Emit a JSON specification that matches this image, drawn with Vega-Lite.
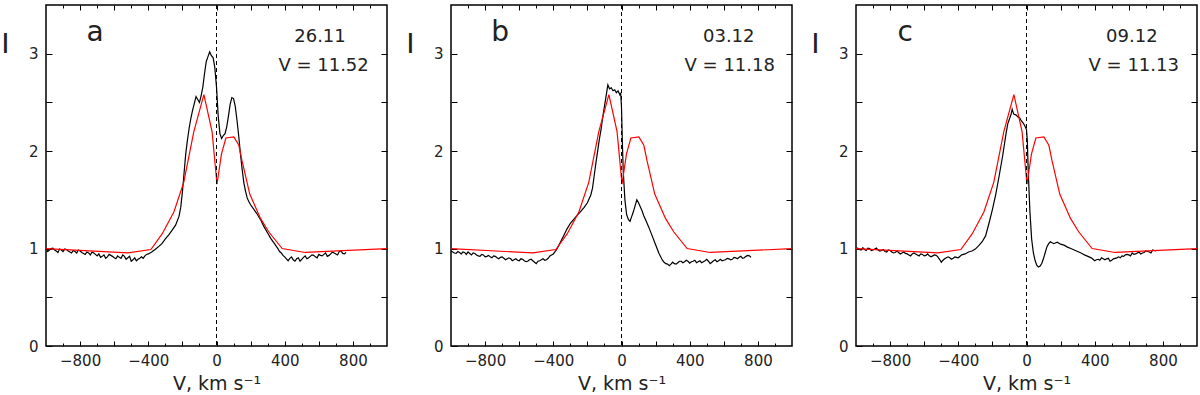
{
"$schema": "https://vega.github.io/schema/vega-lite/v6.json",
"padding": {"left": 0, "top": 3, "right": 0, "bottom": 0},
"background": "white",
"config": {
 "view": {"stroke": "black", "strokeWidth": 1.5},
 "axis": {"domain": false, "grid": false, "labelFont": "DejaVu Sans", "labelFontSize": 15, "labelColor": "#222", "tickColor": "black", "tickWidth": 1, "titleFont": "DejaVu Sans", "titleFontWeight": "normal", "titleColor": "#222"},
 "concat": {"spacing": 14},
 "text": {"font": "DejaVu Sans", "color": "#222"}
},
"datasets": {
 "model": [
  {"v":-1000,"i":1.0},{"v":-520,"i":0.955},{"v":-385,"i":0.99},{"v":-319,"i":1.15},{"v":-250,"i":1.375},{"v":-192,"i":1.68},{"v":-133,"i":2.2},{"v":-74,"i":2.58},{"v":-26,"i":2.2},{"v":3,"i":1.66},{"v":29,"i":1.97},{"v":55,"i":2.135},{"v":102,"i":2.145},{"v":131,"i":2.06},{"v":150,"i":1.9},{"v":195,"i":1.56},{"v":258,"i":1.31},{"v":307,"i":1.17},{"v":385,"i":1.0},{"v":520,"i":0.96},{"v":1000,"i":1.0}
 ],
 "spec": [
  {"p":"a","v":-1000,"i":1.0},{"p":"a","v":-980,"i":0.985},{"p":"a","v":-960,"i":1.005},{"p":"a","v":-940,"i":0.975},{"p":"a","v":-920,"i":0.995},{"p":"a","v":-900,"i":0.97},{"p":"a","v":-880,"i":0.99},{"p":"a","v":-860,"i":0.965},{"p":"a","v":-840,"i":0.98},{"p":"a","v":-820,"i":0.955},{"p":"a","v":-800,"i":0.975},{"p":"a","v":-780,"i":0.95},{"p":"a","v":-760,"i":0.965},{"p":"a","v":-740,"i":0.935},{"p":"a","v":-720,"i":0.955},{"p":"a","v":-700,"i":0.925},{"p":"a","v":-680,"i":0.91},{"p":"a","v":-660,"i":0.935},{"p":"a","v":-640,"i":0.915},{"p":"a","v":-620,"i":0.93},{"p":"a","v":-600,"i":0.905},{"p":"a","v":-580,"i":0.925},{"p":"a","v":-560,"i":0.9},{"p":"a","v":-540,"i":0.92},{"p":"a","v":-520,"i":0.905},{"p":"a","v":-500,"i":0.87},{"p":"a","v":-480,"i":0.905},{"p":"a","v":-460,"i":0.89},{"p":"a","v":-440,"i":0.915},{"p":"a","v":-420,"i":0.925},{"p":"a","v":-400,"i":0.945},{"p":"a","v":-380,"i":0.965},{"p":"a","v":-360,"i":0.99},{"p":"a","v":-340,"i":1.02},{"p":"a","v":-320,"i":1.05},{"p":"a","v":-300,"i":1.1},{"p":"a","v":-280,"i":1.14},{"p":"a","v":-260,"i":1.19},{"p":"a","v":-240,"i":1.24},{"p":"a","v":-220,"i":1.33},{"p":"a","v":-210,"i":1.42},{"p":"a","v":-200,"i":1.58},{"p":"a","v":-190,"i":1.78},{"p":"a","v":-180,"i":1.98},{"p":"a","v":-170,"i":2.12},{"p":"a","v":-160,"i":2.24},{"p":"a","v":-150,"i":2.34},{"p":"a","v":-140,"i":2.42},{"p":"a","v":-130,"i":2.49},{"p":"a","v":-120,"i":2.56},{"p":"a","v":-110,"i":2.53},{"p":"a","v":-100,"i":2.5},{"p":"a","v":-90,"i":2.57},{"p":"a","v":-80,"i":2.66},{"p":"a","v":-70,"i":2.8},{"p":"a","v":-60,"i":2.92},{"p":"a","v":-50,"i":2.97},{"p":"a","v":-40,"i":3.02},{"p":"a","v":-30,"i":2.98},{"p":"a","v":-20,"i":2.96},{"p":"a","v":-10,"i":2.86},{"p":"a","v":0,"i":2.66},{"p":"a","v":10,"i":2.36},{"p":"a","v":20,"i":2.18},{"p":"a","v":30,"i":2.13},{"p":"a","v":40,"i":2.16},{"p":"a","v":50,"i":2.18},{"p":"a","v":60,"i":2.25},{"p":"a","v":70,"i":2.36},{"p":"a","v":80,"i":2.48},{"p":"a","v":90,"i":2.55},{"p":"a","v":100,"i":2.54},{"p":"a","v":110,"i":2.46},{"p":"a","v":120,"i":2.32},{"p":"a","v":130,"i":2.16},{"p":"a","v":140,"i":1.98},{"p":"a","v":150,"i":1.82},{"p":"a","v":160,"i":1.68},{"p":"a","v":170,"i":1.59},{"p":"a","v":180,"i":1.52},{"p":"a","v":190,"i":1.48},{"p":"a","v":200,"i":1.45},{"p":"a","v":220,"i":1.4},{"p":"a","v":240,"i":1.35},{"p":"a","v":260,"i":1.29},{"p":"a","v":280,"i":1.22},{"p":"a","v":300,"i":1.16},{"p":"a","v":320,"i":1.1},{"p":"a","v":340,"i":1.05},{"p":"a","v":360,"i":1.0},{"p":"a","v":380,"i":0.955},{"p":"a","v":400,"i":0.915},{"p":"a","v":420,"i":0.875},{"p":"a","v":440,"i":0.915},{"p":"a","v":460,"i":0.87},{"p":"a","v":480,"i":0.905},{"p":"a","v":500,"i":0.89},{"p":"a","v":520,"i":0.925},{"p":"a","v":540,"i":0.905},{"p":"a","v":560,"i":0.935},{"p":"a","v":580,"i":0.915},{"p":"a","v":600,"i":0.94},{"p":"a","v":620,"i":0.925},{"p":"a","v":640,"i":0.955},{"p":"a","v":660,"i":0.93},{"p":"a","v":680,"i":0.965},{"p":"a","v":700,"i":0.945},{"p":"a","v":720,"i":0.97},{"p":"a","v":740,"i":0.95},{"p":"a","v":760,"i":0.96},
  {"p":"a","v":-990,"i":0.97},{"p":"a","v":-970,"i":1.0},{"p":"a","v":-950,"i":0.985},{"p":"a","v":-930,"i":0.96},{"p":"a","v":-910,"i":0.985},{"p":"a","v":-890,"i":0.995},{"p":"a","v":-870,"i":0.975},{"p":"a","v":-850,"i":0.955},{"p":"a","v":-830,"i":0.97},{"p":"a","v":-810,"i":0.985},{"p":"a","v":-790,"i":0.96},{"p":"a","v":-770,"i":0.94},{"p":"a","v":-750,"i":0.955},{"p":"a","v":-730,"i":0.965},{"p":"a","v":-710,"i":0.94},{"p":"a","v":-690,"i":0.945},{"p":"a","v":-670,"i":0.92},{"p":"a","v":-650,"i":0.9},{"p":"a","v":-630,"i":0.94},{"p":"a","v":-610,"i":0.92},{"p":"a","v":-590,"i":0.895},{"p":"a","v":-570,"i":0.91},{"p":"a","v":-550,"i":0.935},{"p":"a","v":-530,"i":0.89},{"p":"a","v":-510,"i":0.92},{"p":"a","v":-490,"i":0.885},{"p":"a","v":-470,"i":0.875},{"p":"a","v":-450,"i":0.9},{"p":"a","v":-430,"i":0.9},{"p":"a","v":-410,"i":0.94},
  {"p":"a","v":370,"i":0.97},{"p":"a","v":390,"i":0.93},{"p":"a","v":410,"i":0.895},{"p":"a","v":430,"i":0.9},{"p":"a","v":450,"i":0.885},{"p":"a","v":470,"i":0.895},{"p":"a","v":490,"i":0.87},{"p":"a","v":510,"i":0.91},{"p":"a","v":530,"i":0.895},{"p":"a","v":550,"i":0.92},{"p":"a","v":570,"i":0.93},{"p":"a","v":590,"i":0.905},{"p":"a","v":610,"i":0.93},{"p":"a","v":630,"i":0.94},{"p":"a","v":650,"i":0.92},{"p":"a","v":670,"i":0.945},{"p":"a","v":690,"i":0.955},{"p":"a","v":710,"i":0.935},{"p":"a","v":730,"i":0.975},{"p":"a","v":750,"i":0.945},
  {"p":"b","v":-1000,"i":0.975},{"p":"b","v":-980,"i":0.955},{"p":"b","v":-960,"i":0.97},{"p":"b","v":-940,"i":0.945},{"p":"b","v":-920,"i":0.96},{"p":"b","v":-900,"i":0.965},{"p":"b","v":-880,"i":0.935},{"p":"b","v":-860,"i":0.95},{"p":"b","v":-840,"i":0.925},{"p":"b","v":-820,"i":0.94},{"p":"b","v":-800,"i":0.915},{"p":"b","v":-780,"i":0.93},{"p":"b","v":-760,"i":0.905},{"p":"b","v":-740,"i":0.92},{"p":"b","v":-720,"i":0.895},{"p":"b","v":-700,"i":0.915},{"p":"b","v":-680,"i":0.885},{"p":"b","v":-660,"i":0.905},{"p":"b","v":-640,"i":0.875},{"p":"b","v":-620,"i":0.895},{"p":"b","v":-600,"i":0.875},{"p":"b","v":-580,"i":0.89},{"p":"b","v":-560,"i":0.865},{"p":"b","v":-540,"i":0.885},{"p":"b","v":-520,"i":0.875},{"p":"b","v":-500,"i":0.845},{"p":"b","v":-480,"i":0.875},{"p":"b","v":-460,"i":0.895},{"p":"b","v":-440,"i":0.885},{"p":"b","v":-420,"i":0.925},{"p":"b","v":-400,"i":0.945},{"p":"b","v":-380,"i":0.99},{"p":"b","v":-360,"i":1.06},{"p":"b","v":-340,"i":1.13},{"p":"b","v":-320,"i":1.2},{"p":"b","v":-300,"i":1.26},{"p":"b","v":-280,"i":1.3},{"p":"b","v":-260,"i":1.34},{"p":"b","v":-240,"i":1.38},{"p":"b","v":-220,"i":1.42},{"p":"b","v":-200,"i":1.47},{"p":"b","v":-180,"i":1.55},{"p":"b","v":-170,"i":1.62},{"p":"b","v":-160,"i":1.75},{"p":"b","v":-150,"i":1.88},{"p":"b","v":-140,"i":2.0},{"p":"b","v":-130,"i":2.12},{"p":"b","v":-120,"i":2.22},{"p":"b","v":-110,"i":2.35},{"p":"b","v":-100,"i":2.46},{"p":"b","v":-90,"i":2.57},{"p":"b","v":-80,"i":2.68},{"p":"b","v":-70,"i":2.64},{"p":"b","v":-60,"i":2.65},{"p":"b","v":-50,"i":2.62},{"p":"b","v":-40,"i":2.63},{"p":"b","v":-30,"i":2.6},{"p":"b","v":-20,"i":2.62},{"p":"b","v":-10,"i":2.58},{"p":"b","v":-5,"i":2.6},{"p":"b","v":0,"i":2.45},{"p":"b","v":5,"i":2.1},{"p":"b","v":10,"i":1.8},{"p":"b","v":20,"i":1.5},{"p":"b","v":30,"i":1.35},{"p":"b","v":40,"i":1.3},{"p":"b","v":50,"i":1.28},{"p":"b","v":60,"i":1.33},{"p":"b","v":70,"i":1.38},{"p":"b","v":80,"i":1.44},{"p":"b","v":90,"i":1.5},{"p":"b","v":100,"i":1.47},{"p":"b","v":110,"i":1.43},{"p":"b","v":120,"i":1.39},{"p":"b","v":130,"i":1.34},{"p":"b","v":140,"i":1.3},{"p":"b","v":160,"i":1.22},{"p":"b","v":180,"i":1.13},{"p":"b","v":200,"i":1.04},{"p":"b","v":220,"i":0.95},{"p":"b","v":240,"i":0.88},{"p":"b","v":260,"i":0.845},{"p":"b","v":280,"i":0.825},{"p":"b","v":300,"i":0.86},{"p":"b","v":320,"i":0.84},{"p":"b","v":340,"i":0.87},{"p":"b","v":360,"i":0.855},{"p":"b","v":380,"i":0.88},{"p":"b","v":400,"i":0.85},{"p":"b","v":420,"i":0.87},{"p":"b","v":440,"i":0.855},{"p":"b","v":460,"i":0.875},{"p":"b","v":480,"i":0.865},{"p":"b","v":500,"i":0.89},{"p":"b","v":520,"i":0.845},{"p":"b","v":540,"i":0.875},{"p":"b","v":560,"i":0.865},{"p":"b","v":580,"i":0.89},{"p":"b","v":600,"i":0.88},{"p":"b","v":620,"i":0.9},{"p":"b","v":640,"i":0.885},{"p":"b","v":660,"i":0.91},{"p":"b","v":680,"i":0.895},{"p":"b","v":700,"i":0.92},{"p":"b","v":720,"i":0.905},{"p":"b","v":740,"i":0.93},{"p":"b","v":760,"i":0.91},
  {"p":"b","v":-990,"i":0.965},{"p":"b","v":-970,"i":0.95},{"p":"b","v":-950,"i":0.96},{"p":"b","v":-930,"i":0.965},{"p":"b","v":-910,"i":0.94},{"p":"b","v":-890,"i":0.95},{"p":"b","v":-870,"i":0.955},{"p":"b","v":-850,"i":0.935},{"p":"b","v":-830,"i":0.92},{"p":"b","v":-810,"i":0.935},{"p":"b","v":-790,"i":0.92},{"p":"b","v":-770,"i":0.915},{"p":"b","v":-750,"i":0.925},{"p":"b","v":-730,"i":0.905},{"p":"b","v":-710,"i":0.91},{"p":"b","v":-690,"i":0.9},{"p":"b","v":-670,"i":0.895},{"p":"b","v":-650,"i":0.895},{"p":"b","v":-630,"i":0.885},{"p":"b","v":-610,"i":0.88},{"p":"b","v":-590,"i":0.895},{"p":"b","v":-570,"i":0.875},{"p":"b","v":-550,"i":0.87},{"p":"b","v":-530,"i":0.89},{"p":"b","v":-510,"i":0.86},{"p":"b","v":-490,"i":0.87},{"p":"b","v":-470,"i":0.885},{"p":"b","v":-450,"i":0.88},{"p":"b","v":-430,"i":0.9},{"p":"b","v":-410,"i":0.935},
  {"p":"b","v":250,"i":0.86},{"p":"b","v":270,"i":0.84},{"p":"b","v":290,"i":0.84},{"p":"b","v":310,"i":0.845},{"p":"b","v":330,"i":0.855},{"p":"b","v":350,"i":0.87},{"p":"b","v":370,"i":0.865},{"p":"b","v":390,"i":0.87},{"p":"b","v":410,"i":0.865},{"p":"b","v":430,"i":0.88},{"p":"b","v":450,"i":0.865},{"p":"b","v":470,"i":0.855},{"p":"b","v":490,"i":0.875},{"p":"b","v":510,"i":0.87},{"p":"b","v":530,"i":0.86},{"p":"b","v":550,"i":0.885},{"p":"b","v":570,"i":0.875},{"p":"b","v":590,"i":0.875},{"p":"b","v":610,"i":0.885},{"p":"b","v":630,"i":0.895},{"p":"b","v":650,"i":0.89},{"p":"b","v":670,"i":0.905},{"p":"b","v":690,"i":0.91},{"p":"b","v":710,"i":0.9},{"p":"b","v":730,"i":0.92},{"p":"b","v":750,"i":0.925},
  {"p":"c","v":-1000,"i":1.0},{"p":"c","v":-980,"i":0.99},{"p":"c","v":-960,"i":1.01},{"p":"c","v":-940,"i":0.98},{"p":"c","v":-920,"i":1.0},{"p":"c","v":-900,"i":0.985},{"p":"c","v":-880,"i":1.005},{"p":"c","v":-860,"i":0.975},{"p":"c","v":-840,"i":0.99},{"p":"c","v":-820,"i":0.965},{"p":"c","v":-800,"i":0.98},{"p":"c","v":-780,"i":0.955},{"p":"c","v":-760,"i":0.975},{"p":"c","v":-740,"i":0.945},{"p":"c","v":-720,"i":0.965},{"p":"c","v":-700,"i":0.945},{"p":"c","v":-680,"i":0.925},{"p":"c","v":-660,"i":0.955},{"p":"c","v":-640,"i":0.935},{"p":"c","v":-620,"i":0.945},{"p":"c","v":-600,"i":0.925},{"p":"c","v":-580,"i":0.945},{"p":"c","v":-560,"i":0.915},{"p":"c","v":-540,"i":0.935},{"p":"c","v":-520,"i":0.915},{"p":"c","v":-500,"i":0.86},{"p":"c","v":-480,"i":0.895},{"p":"c","v":-460,"i":0.915},{"p":"c","v":-440,"i":0.89},{"p":"c","v":-420,"i":0.915},{"p":"c","v":-400,"i":0.905},{"p":"c","v":-380,"i":0.935},{"p":"c","v":-360,"i":0.945},{"p":"c","v":-340,"i":0.965},{"p":"c","v":-320,"i":0.975},{"p":"c","v":-300,"i":0.995},{"p":"c","v":-280,"i":1.03},{"p":"c","v":-260,"i":1.07},{"p":"c","v":-240,"i":1.13},{"p":"c","v":-220,"i":1.26},{"p":"c","v":-200,"i":1.4},{"p":"c","v":-180,"i":1.56},{"p":"c","v":-160,"i":1.75},{"p":"c","v":-140,"i":1.95},{"p":"c","v":-120,"i":2.18},{"p":"c","v":-110,"i":2.28},{"p":"c","v":-100,"i":2.33},{"p":"c","v":-90,"i":2.38},{"p":"c","v":-84,"i":2.43},{"p":"c","v":-75,"i":2.38},{"p":"c","v":-60,"i":2.37},{"p":"c","v":-50,"i":2.35},{"p":"c","v":-40,"i":2.34},{"p":"c","v":-30,"i":2.31},{"p":"c","v":-20,"i":2.29},{"p":"c","v":-10,"i":2.26},{"p":"c","v":0,"i":2.22},{"p":"c","v":5,"i":2.1},{"p":"c","v":10,"i":1.8},{"p":"c","v":20,"i":1.38},{"p":"c","v":30,"i":1.1},{"p":"c","v":40,"i":0.96},{"p":"c","v":50,"i":0.88},{"p":"c","v":60,"i":0.83},{"p":"c","v":70,"i":0.81},{"p":"c","v":80,"i":0.82},{"p":"c","v":90,"i":0.85},{"p":"c","v":100,"i":0.9},{"p":"c","v":110,"i":0.96},{"p":"c","v":120,"i":1.02},{"p":"c","v":130,"i":1.05},{"p":"c","v":140,"i":1.07},{"p":"c","v":160,"i":1.05},{"p":"c","v":180,"i":1.065},{"p":"c","v":200,"i":1.045},{"p":"c","v":220,"i":1.035},{"p":"c","v":240,"i":1.015},{"p":"c","v":260,"i":1.0},{"p":"c","v":280,"i":0.985},{"p":"c","v":300,"i":0.97},{"p":"c","v":320,"i":0.955},{"p":"c","v":340,"i":0.935},{"p":"c","v":360,"i":0.92},{"p":"c","v":380,"i":0.905},{"p":"c","v":400,"i":0.875},{"p":"c","v":420,"i":0.89},{"p":"c","v":440,"i":0.905},{"p":"c","v":460,"i":0.885},{"p":"c","v":480,"i":0.9},{"p":"c","v":500,"i":0.88},{"p":"c","v":520,"i":0.9},{"p":"c","v":540,"i":0.915},{"p":"c","v":560,"i":0.925},{"p":"c","v":580,"i":0.935},{"p":"c","v":600,"i":0.935},{"p":"c","v":620,"i":0.955},{"p":"c","v":640,"i":0.945},{"p":"c","v":660,"i":0.965},{"p":"c","v":680,"i":0.955},{"p":"c","v":700,"i":0.975},{"p":"c","v":720,"i":0.965},{"p":"c","v":740,"i":0.985},{"p":"c","v":760,"i":0.975},
  {"p":"c","v":-990,"i":1.005},{"p":"c","v":-970,"i":0.985},{"p":"c","v":-950,"i":0.99},{"p":"c","v":-930,"i":1.005},{"p":"c","v":-910,"i":0.98},{"p":"c","v":-890,"i":0.995},{"p":"c","v":-870,"i":0.985},{"p":"c","v":-850,"i":0.98},{"p":"c","v":-830,"i":0.97},{"p":"c","v":-810,"i":0.985},{"p":"c","v":-790,"i":0.965},{"p":"c","v":-770,"i":0.96},{"p":"c","v":-750,"i":0.96},{"p":"c","v":-730,"i":0.955},{"p":"c","v":-710,"i":0.95},{"p":"c","v":-690,"i":0.935},{"p":"c","v":-670,"i":0.945},{"p":"c","v":-650,"i":0.945},{"p":"c","v":-630,"i":0.925},{"p":"c","v":-610,"i":0.94},{"p":"c","v":-590,"i":0.93},{"p":"c","v":-570,"i":0.925},{"p":"c","v":-550,"i":0.925},{"p":"c","v":-530,"i":0.93},{"p":"c","v":-510,"i":0.89},{"p":"c","v":-490,"i":0.88},{"p":"c","v":-470,"i":0.905},{"p":"c","v":-450,"i":0.905},{"p":"c","v":-430,"i":0.9},{"p":"c","v":-410,"i":0.91},
  {"p":"c","v":390,"i":0.89},{"p":"c","v":410,"i":0.885},{"p":"c","v":430,"i":0.88},{"p":"c","v":450,"i":0.895},{"p":"c","v":470,"i":0.895},{"p":"c","v":490,"i":0.87},{"p":"c","v":510,"i":0.895},{"p":"c","v":530,"i":0.905},{"p":"c","v":550,"i":0.905},{"p":"c","v":570,"i":0.92},{"p":"c","v":590,"i":0.94},{"p":"c","v":610,"i":0.925},{"p":"c","v":630,"i":0.94},{"p":"c","v":650,"i":0.955},{"p":"c","v":670,"i":0.945},{"p":"c","v":690,"i":0.96},{"p":"c","v":710,"i":0.97},{"p":"c","v":730,"i":0.955},{"p":"c","v":750,"i":0.98}
 ],
 "letters": [
  {"p":"a","v":-712,"i":3.13,"t":"a"},{"p":"b","v":-712,"i":3.13,"t":"b"},{"p":"c","v":-712,"i":3.13,"t":"c"}
 ],
 "info": [
  {"p":"a","v":607,"i":3.125,"t":"26.11"},{"p":"a","v":628,"i":2.82,"t":"V = 11.52"},
  {"p":"b","v":629,"i":3.125,"t":"03.12"},{"p":"b","v":635,"i":2.82,"t":"V = 11.18"},
  {"p":"c","v":618,"i":3.125,"t":"09.12"},{"p":"c","v":629,"i":2.82,"t":"V = 11.13"}
 ],
 "zero": [{"v":0}]
},
"hconcat": [
 {
  "width": 341, "height": 341,
  "resolve": {"axis": {"x": "independent", "y": "independent"}},
  "layer": [
   {"data": {"name": "spec"}, "transform": [{"filter": "datum.p === 'a'"}],
    "mark": {"type": "line", "color": "black", "strokeWidth": 1.2},
    "encoding": {
     "x": {"field": "v", "type": "quantitative", "scale": {"domain": [-1000, 1000], "nice": false, "zero": false},
      "axis": {"orient": "bottom", "values": [-800,-600,-400,-200,0,200,400,600,800], "tickSize": -5, "labelExpr": "datum.value % 400 === 0 ? format(datum.value, 'd') : ''", "labelPadding": 12, "title": "V, km s⁻¹", "titleFontSize": 19, "titlePadding": 6}},
     "y": {"field": "i", "type": "quantitative", "scale": {"domain": [0, 3.5], "nice": false, "zero": false},
      "axis": {"orient": "left", "values": [0,0.5,1,1.5,2,2.5,3], "tickSize": -6, "labelExpr": "datum.value % 1 === 0 ? format(datum.value, 'd') : ''", "labelPadding": 14, "title": "I", "titleAngle": 0, "titleX": -41, "titleY": 38, "titleAlign": "center", "titleBaseline": "middle", "titleFontSize": 30, "titleFont": "Liberation Sans"}}
    }},
   {"data": {"name": "model"},
    "mark": {"type": "line", "color": "#ff0000", "strokeWidth": 1.2},
    "encoding": {
     "x": {"field": "v", "type": "quantitative", "axis": {"orient": "bottom", "values": [-900,-700,-500,-300,-100,100,300,500,700,900], "tickSize": -3, "labels": false, "title": null}},
     "y": {"field": "i", "type": "quantitative", "axis": {"orient": "right", "values": [0.5,1,1.5,2,2.5,3], "tickSize": -6, "labels": false, "title": null}}
    }},
   {"data": {"name": "zero"},
    "mark": {"type": "rule", "color": "black", "strokeWidth": 1, "strokeDash": [4, 3]},
    "encoding": {
     "x": {"field": "v", "type": "quantitative", "axis": {"orient": "top", "values": [-800,-600,-400,-200,0,200,400,600,800], "tickSize": -5, "labels": false, "title": null}}
    }},
   {"data": {"name": "letters"}, "transform": [{"filter": "datum.p === 'a'"}],
    "mark": {"type": "text", "fontSize": 28, "align": "center", "baseline": "alphabetic"},
    "encoding": {
     "x": {"field": "v", "type": "quantitative", "axis": {"orient": "top", "values": [-900,-700,-500,-300,-100,100,300,500,700,900], "tickSize": -3, "labels": false, "title": null}},
     "y": {"field": "i", "type": "quantitative", "axis": null},
     "text": {"field": "t"}
    }},
   {"data": {"name": "info"}, "transform": [{"filter": "datum.p === 'a'"}],
    "mark": {"type": "text", "fontSize": 18, "align": "center", "baseline": "alphabetic"},
    "encoding": {
     "x": {"field": "v", "type": "quantitative", "axis": null},
     "y": {"field": "i", "type": "quantitative", "axis": null},
     "text": {"field": "t"}
    }}
  ]
 },
 {
  "width": 341, "height": 341,
  "resolve": {"axis": {"x": "independent", "y": "independent"}},
  "layer": [
   {"data": {"name": "spec"}, "transform": [{"filter": "datum.p === 'b'"}],
    "mark": {"type": "line", "color": "black", "strokeWidth": 1.2},
    "encoding": {
     "x": {"field": "v", "type": "quantitative", "scale": {"domain": [-1000, 1000], "nice": false, "zero": false},
      "axis": {"orient": "bottom", "values": [-800,-600,-400,-200,0,200,400,600,800], "tickSize": -5, "labelExpr": "datum.value % 400 === 0 ? format(datum.value, 'd') : ''", "labelPadding": 12, "title": "V, km s⁻¹", "titleFontSize": 19, "titlePadding": 6}},
     "y": {"field": "i", "type": "quantitative", "scale": {"domain": [0, 3.5], "nice": false, "zero": false},
      "axis": {"orient": "left", "values": [0,0.5,1,1.5,2,2.5,3], "tickSize": -6, "labelExpr": "datum.value % 1 === 0 ? format(datum.value, 'd') : ''", "labelPadding": 14, "title": "I", "titleAngle": 0, "titleX": -41, "titleY": 38, "titleAlign": "center", "titleBaseline": "middle", "titleFontSize": 30, "titleFont": "Liberation Sans"}}
    }},
   {"data": {"name": "model"},
    "mark": {"type": "line", "color": "#ff0000", "strokeWidth": 1.2},
    "encoding": {
     "x": {"field": "v", "type": "quantitative", "axis": {"orient": "bottom", "values": [-900,-700,-500,-300,-100,100,300,500,700,900], "tickSize": -3, "labels": false, "title": null}},
     "y": {"field": "i", "type": "quantitative", "axis": {"orient": "right", "values": [0.5,1,1.5,2,2.5,3], "tickSize": -6, "labels": false, "title": null}}
    }},
   {"data": {"name": "zero"},
    "mark": {"type": "rule", "color": "black", "strokeWidth": 1, "strokeDash": [4, 3]},
    "encoding": {
     "x": {"field": "v", "type": "quantitative", "axis": {"orient": "top", "values": [-800,-600,-400,-200,0,200,400,600,800], "tickSize": -5, "labels": false, "title": null}}
    }},
   {"data": {"name": "letters"}, "transform": [{"filter": "datum.p === 'b'"}],
    "mark": {"type": "text", "fontSize": 28, "align": "center", "baseline": "alphabetic"},
    "encoding": {
     "x": {"field": "v", "type": "quantitative", "axis": {"orient": "top", "values": [-900,-700,-500,-300,-100,100,300,500,700,900], "tickSize": -3, "labels": false, "title": null}},
     "y": {"field": "i", "type": "quantitative", "axis": null},
     "text": {"field": "t"}
    }},
   {"data": {"name": "info"}, "transform": [{"filter": "datum.p === 'b'"}],
    "mark": {"type": "text", "fontSize": 18, "align": "center", "baseline": "alphabetic"},
    "encoding": {
     "x": {"field": "v", "type": "quantitative", "axis": null},
     "y": {"field": "i", "type": "quantitative", "axis": null},
     "text": {"field": "t"}
    }}
  ]
 },
 {
  "width": 341, "height": 341,
  "resolve": {"axis": {"x": "independent", "y": "independent"}},
  "layer": [
   {"data": {"name": "spec"}, "transform": [{"filter": "datum.p === 'c'"}],
    "mark": {"type": "line", "color": "black", "strokeWidth": 1.2},
    "encoding": {
     "x": {"field": "v", "type": "quantitative", "scale": {"domain": [-1000, 1000], "nice": false, "zero": false},
      "axis": {"orient": "bottom", "values": [-800,-600,-400,-200,0,200,400,600,800], "tickSize": -5, "labelExpr": "datum.value % 400 === 0 ? format(datum.value, 'd') : ''", "labelPadding": 12, "title": "V, km s⁻¹", "titleFontSize": 19, "titlePadding": 6}},
     "y": {"field": "i", "type": "quantitative", "scale": {"domain": [0, 3.5], "nice": false, "zero": false},
      "axis": {"orient": "left", "values": [0,0.5,1,1.5,2,2.5,3], "tickSize": -6, "labelExpr": "datum.value % 1 === 0 ? format(datum.value, 'd') : ''", "labelPadding": 14, "title": "I", "titleAngle": 0, "titleX": -41, "titleY": 38, "titleAlign": "center", "titleBaseline": "middle", "titleFontSize": 30, "titleFont": "Liberation Sans"}}
    }},
   {"data": {"name": "model"},
    "mark": {"type": "line", "color": "#ff0000", "strokeWidth": 1.2},
    "encoding": {
     "x": {"field": "v", "type": "quantitative", "axis": {"orient": "bottom", "values": [-900,-700,-500,-300,-100,100,300,500,700,900], "tickSize": -3, "labels": false, "title": null}},
     "y": {"field": "i", "type": "quantitative", "axis": {"orient": "right", "values": [0.5,1,1.5,2,2.5,3], "tickSize": -6, "labels": false, "title": null}}
    }},
   {"data": {"name": "zero"},
    "mark": {"type": "rule", "color": "black", "strokeWidth": 1, "strokeDash": [4, 3]},
    "encoding": {
     "x": {"field": "v", "type": "quantitative", "axis": {"orient": "top", "values": [-800,-600,-400,-200,0,200,400,600,800], "tickSize": -5, "labels": false, "title": null}}
    }},
   {"data": {"name": "letters"}, "transform": [{"filter": "datum.p === 'c'"}],
    "mark": {"type": "text", "fontSize": 28, "align": "center", "baseline": "alphabetic"},
    "encoding": {
     "x": {"field": "v", "type": "quantitative", "axis": {"orient": "top", "values": [-900,-700,-500,-300,-100,100,300,500,700,900], "tickSize": -3, "labels": false, "title": null}},
     "y": {"field": "i", "type": "quantitative", "axis": null},
     "text": {"field": "t"}
    }},
   {"data": {"name": "info"}, "transform": [{"filter": "datum.p === 'c'"}],
    "mark": {"type": "text", "fontSize": 18, "align": "center", "baseline": "alphabetic"},
    "encoding": {
     "x": {"field": "v", "type": "quantitative", "axis": null},
     "y": {"field": "i", "type": "quantitative", "axis": null},
     "text": {"field": "t"}
    }}
  ]
 }
]
}
